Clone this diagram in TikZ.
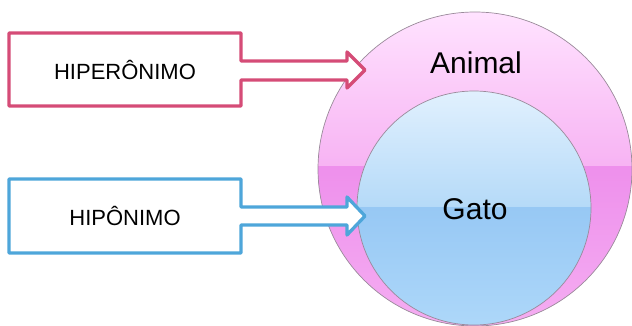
\documentclass[tikz,border=0pt]{standalone}
\usepackage{fontspec}
\setmainfont{Liberation Sans}
\definecolor{pinkline}{HTML}{D54C77}
\definecolor{blueline}{HTML}{4EA6DA}
\definecolor{ringline}{HTML}{9A8A9A}
\definecolor{pA}{HTML}{FFE3FF}
\definecolor{pB}{HTML}{F7B3F3}
\definecolor{pC}{HTML}{EE90EC}
\definecolor{pD}{HTML}{F5AEF2}
\definecolor{bA}{HTML}{E2F1FE}
\definecolor{bB}{HTML}{B5DAF8}
\definecolor{bC}{HTML}{97C8F4}
\definecolor{bD}{HTML}{AED8FA}
\tikzset{
  callout/.style={fill=white, line width=3.3pt, line join=round},
  labeltext/.style={font=\fontsize{22}{24}\selectfont, text=black},
  circletext/.style={font=\fontsize{30}{32}\selectfont, text=black},
  ring/.style={draw=ringline, line width=0.7pt}
}
\begin{document}
\begin{tikzpicture}[x=1pt,y=-1pt]
\useasboundingbox (0,0) rectangle (632,326);
% outer circle
\begin{scope}
  \clip (475,169) circle[radius=157pt];
  \shade[top color=pA, bottom color=pB] (310,10) rectangle (640,167);
  \shade[top color=pC, bottom color=pD] (310,167) rectangle (640,330);
\end{scope}
\draw[ring] (475,169) circle[radius=157pt];
% inner circle
\begin{scope}
  \clip (474,208) circle[radius=117pt];
  \shade[top color=bA, bottom color=bB] (350,88) rectangle (600,207);
  \shade[top color=bC, bottom color=bD] (350,207) rectangle (600,330);
\end{scope}
\draw[ring] (474,208) circle[radius=117pt];
\node[circletext] (animal) at (476,63) {Animal};
\node[circletext] (gato) at (475,209) {Gato};
% callouts
\draw[callout, draw=pinkline] (9,33) -- (241,33) -- (241,61) -- (347,61) -- (347,52) -- (365,70) -- (347,88) -- (347,80) -- (241,80) -- (241,106) -- (9,106) -- cycle;
\node[labeltext] (hiper) at (125,70) {HIPERÔNIMO};
\draw[callout, draw=blueline] (9,179) -- (241,179) -- (241,207) -- (347,207) -- (347,197) -- (365,216) -- (347,235) -- (347,225) -- (241,225) -- (241,253) -- (9,253) -- cycle;
\node[labeltext] (hipo) at (125,216) {HIPÔNIMO};
\end{tikzpicture}
\end{document}
